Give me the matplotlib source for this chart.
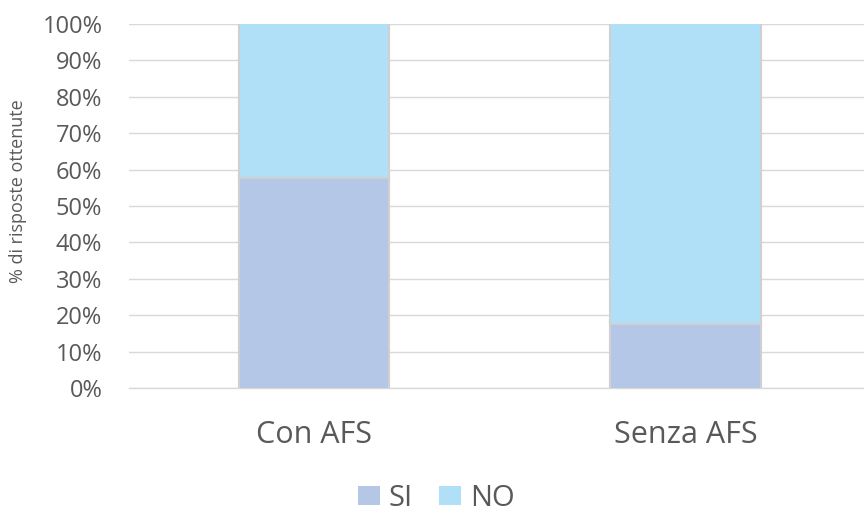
import matplotlib
matplotlib.use("Agg")
import matplotlib.pyplot as plt
import matplotlib.patheffects as pe
from matplotlib.patches import Patch
import numpy as np
from matplotlib.ticker import PercentFormatter

categories = ["Con AFS", "Senza AFS"]
si_values = [58, 18]
no_values = [42, 82]
yticks = list(range(0, 101, 10))

plt.rcParams["font.family"] = ["Open Sans", "DejaVu Sans"]
text_color = "#595959"
si_color = "#b4c7e7"
no_color = "#b0e0f8"

fig = plt.figure(figsize=(8.64, 5.16), dpi=100)
ax = fig.add_axes([0.149, 0.248, 0.859, 0.7055])

x = np.arange(len(categories))
edge_fx = [pe.Stroke(linewidth=3, foreground="#d0d0d0"), pe.Normal()]

b1 = ax.bar(x, si_values, width=0.40, color=si_color, zorder=3)
b2 = ax.bar(x, no_values, width=0.40, bottom=si_values, color=no_color, zorder=3)
for patch in list(b1) + list(b2):
    patch.set_path_effects(edge_fx)

ax.set_xlim(-0.5, 1.5)
ax.set_ylim(0, 100)
ax.set_yticks(yticks)
ax.yaxis.set_major_formatter(PercentFormatter(decimals=0))
ax.grid(axis="y", color="#d9d9d9", linewidth=1, zorder=0)
ax.set_axisbelow(True)
for s in ["top", "right", "left"]:
    ax.spines[s].set_visible(False)
ax.spines["bottom"].set_color("#d9d9d9")
ax.spines["bottom"].set_linewidth(1)

ax.set_xticks(x)
ax.set_xticklabels(categories, fontsize=22, color=text_color)
ax.tick_params(axis="x", length=0, pad=23)
ax.tick_params(axis="y", length=0, labelsize=17, labelcolor=text_color, pad=19)
ax.set_ylabel("% di risposte ottenute", fontsize=13, color=text_color)
ax.yaxis.set_label_coords(-0.137, 0.54)

handles = [Patch(facecolor=si_color), Patch(facecolor=no_color)]
fig.legend(handles=handles, labels=["SI", "NO"], loc="center",
           bbox_to_anchor=(0.505, 0.034), ncol=2, frameon=False, fontsize=21,
           labelcolor=text_color, handlelength=0.75, handleheight=0.6,
           handletextpad=0.3, columnspacing=0.9)

fig.savefig("out.png", dpi=100)
